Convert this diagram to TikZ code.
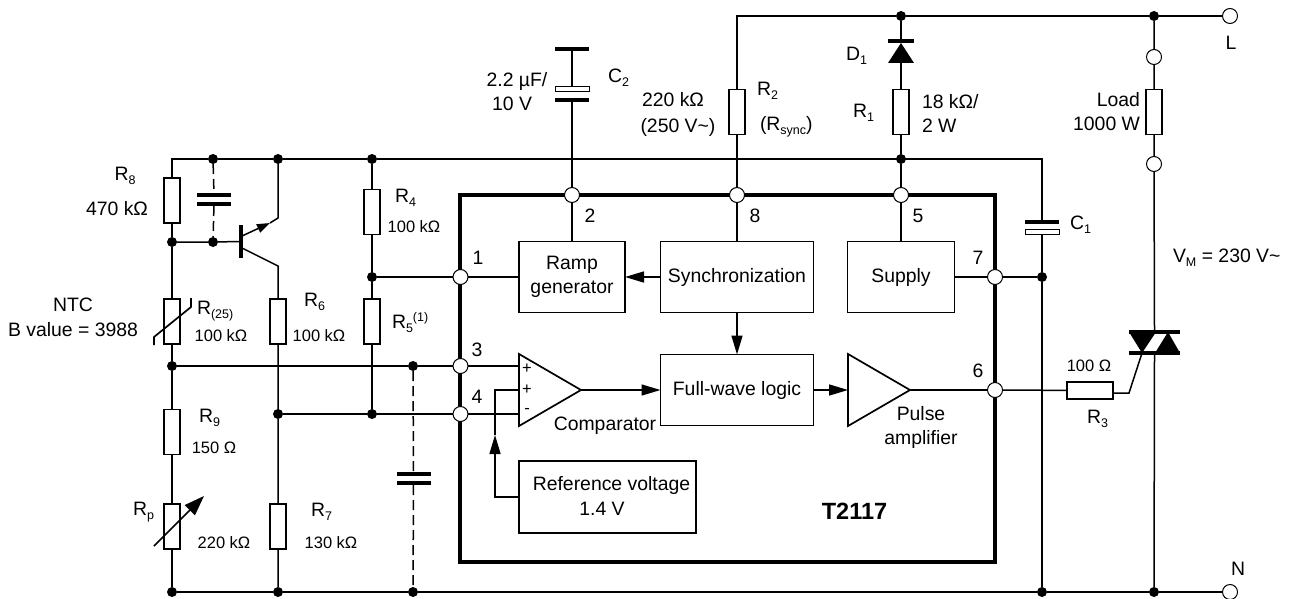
\documentclass[tikz,border=0pt]{standalone}
\usepackage{fontspec}
\setmainfont{Liberation Sans}
\usetikzlibrary{arrows.meta}
\newcommand{\fbig}{\fontsize{19.4}{24}\selectfont}
\newcommand{\fsmall}{\fontsize{16.5}{20}\selectfont}
\newcommand{\lowidx}[1]{\raisebox{-4pt}{\fontsize{12.5}{13}\selectfont #1}}
\newcommand{\upidx}[1]{\raisebox{7pt}{\fontsize{12.5}{13}\selectfont #1}}
\tikzstyle{every node}=[inner sep=0pt,outer sep=0pt]
\tikzstyle{lab}=[font=\fbig,align=center]
\tikzstyle{val}=[font=\fsmall,align=center]
\tikzstyle{dot}=[circle,fill=black,minimum size=10pt]
\tikzstyle{pin}=[circle,draw,fill=white,line width=1pt,minimum size=15pt]
\tikzstyle{res}=[rectangle,draw,line width=1.7pt,minimum width=16pt,minimum height=45pt]
\tikzstyle{plate}=[rectangle,fill=black,minimum width=34pt,minimum height=4pt]
\tikzstyle{hollow}=[rectangle,draw,fill=white,line width=1pt,minimum width=34pt,minimum height=5pt]
\tikzstyle{block}=[rectangle,draw,font=\fbig,align=center,line width=1.7pt,minimum height=71pt]
\tikzstyle{amp}=[line width=1.7pt,line join=miter]
\tikzstyle{tip}=[-{Triangle[length=19pt,width=11pt]}]
\tikzstyle{opt}=[dashed,dash pattern=on 10pt off 5pt]
\begin{document}
\begin{tikzpicture}[x=1pt,y=-1pt,line width=1.5pt]
\useasboundingbox (0,0) rectangle (1289,599);
\node[rectangle,draw,line width=4.5pt,minimum width=535pt,minimum height=367pt] (ic) at (727.5,378.5) {};
\node[pin] (p1) at (460.5,277) {};
\node[pin] (p2) at (572,195) {};
\node[pin] (p3) at (460.5,366) {};
\node[pin] (p4) at (460.5,414) {};
\node[pin] (p5) at (901,195) {};
\node[pin] (p6) at (995,390) {};
\node[pin] (p7) at (995,277) {};
\node[pin] (p8) at (737,195) {};
\node[pin] (tL) at (1230,16) {};
\node[pin] (tN) at (1230,592) {};
\node[pin] (tA) at (1154,57) {};
\node[pin] (tB) at (1154,164) {};
\node[dot] (j1) at (213,159) {};
\node[dot] (j2) at (278,159) {};
\node[dot] (j3) at (372,159) {};
\node[dot] (j4) at (901,159) {};
\node[dot] (j5) at (172,242) {};
\node[dot] (j6) at (213,242) {};
\node[dot] (j7) at (372,277) {};
\node[dot] (j8) at (1042,277) {};
\node[dot] (j9) at (172,366) {};
\node[dot] (j10) at (413,366) {};
\node[dot] (j11) at (278,414) {};
\node[dot] (j12) at (372,414) {};
\node[dot] (j13) at (172,592) {};
\node[dot] (j14) at (278,592) {};
\node[dot] (j15) at (413,592) {};
\node[dot] (j16) at (1042,592) {};
\node[dot] (j17) at (1154,592) {};
\node[dot] (j18) at (901,16) {};
\node[dot] (j19) at (1154,16) {};
\node[res] (R8) at (172,200.5) {};
\node[res] (R4) at (372,212) {};
\node[res] (R25) at (172,321.5) {};
\node[res] (R6) at (278,321.5) {};
\node[res] (R5) at (372,321.5) {};
\node[res] (R9) at (172,432) {};
\node[res] (Rp) at (172,526.5) {};
\node[res] (R7) at (278,526.5) {};
\node[res] (R2) at (737,112) {};
\node[res] (R1) at (901,112) {};
\node[res] (RL) at (1154,112) {};
\node[res,minimum width=46pt,minimum height=17pt] (R3) at (1090,390.5) {};
\node[block,minimum width=106pt] (ramp) at (572,277) {Ramp\\generator};
\node[block,minimum width=153pt] (sync) at (737,277) {Synchronization};
\node[block,minimum width=107pt] (supply) at (901,277) {Supply};
\node[block,minimum width=153pt] (logic) at (737,390) {Full-wave logic};
\node[block,minimum width=177pt,minimum height=72pt] (ref) at (607.5,497) {};
\node[plate] (C2a) at (572,49) {};
\node[hollow] (C2b) at (572,89.5) {};
\node[plate] (C2c) at (572,100) {};
\node[plate] (C1a) at (1042,222) {};
\node[hollow] (C1b) at (1042,231.5) {};
\node[plate] (C3a) at (214,195) {};
\node[plate] (C3b) at (214,204) {};
\node[plate] (C4a) at (413.5,474) {};
\node[plate] (C4b) at (413.5,483) {};
\node[plate,minimum width=26pt] (D1a) at (901,41) {};
\node[plate,minimum width=51pt] (Tt) at (1154.5,332) {};
\node[plate,minimum width=51pt] (Tb) at (1154.5,353) {};
\node[plate,minimum width=4pt,minimum height=33pt] (Qb) at (241,241.5) {};
\coordinate (Qe1) at (242,236);
\coordinate (Qe2) at (270,223);
\coordinate (Qe) at (278,218);
\coordinate (Qc1) at (242,248);
\coordinate (Qc) at (278,266);
\coordinate (D1k) at (901,43);
\coordinate (D1b) at (901,63);
\coordinate (cmpa) at (519,366);
\coordinate (cmpb) at (519,390);
\coordinate (cmpc) at (519,414);
\coordinate (cmpt) at (581,390);
\coordinate (ampb) at (848,390);
\coordinate (ampt) at (910,390);
\coordinate (arw) at (495,435);
\coordinate (gt1) at (1129,393);
\coordinate (gt2) at (1142,353);
\coordinate (ntc1) at (154,345);
\coordinate (ntc2) at (154,337);
\coordinate (ntc3) at (191,307);
\coordinate (ntc4) at (191,298);
\coordinate (pot1) at (154,546);
\coordinate (pot2) at (204,496);
\draw[amp] (519,354)--(519,426)--(cmpt)--cycle;
\draw[amp] (848,354)--(848,426)--(ampt)--cycle;
\fill (888,63)--(914,63)--(D1k)--cycle;
\fill (1129,332)--(1156,332)--(gt2)--cycle;
\fill (1168,332)--(1180,353)--(1155,353)--cycle;
\draw (R8) |- (j1);
\draw (j1)--(j2)--(j3);
\draw (j3) -- (1042,159) -- (C1a);
\draw (C1b) -- (j8) -- (j16);
\draw (R8) -- (j5) -- (R25) -- (j9) -- (R9) -- (Rp) -- (j13) -- (j14) -- (j15) -- (j16) -- (j17) -- (tN);
\draw (j5) -- (j6) -- (Qb);
\draw[opt] (j1) -- (C3a);
\draw[opt] (C3b) -- (j6);
\draw (j2) -- (Qe) -- (Qe2);
\draw[-{Triangle[length=13pt,width=9pt]}] (Qe1) -- (Qe2);
\draw (Qc1) -- (Qc) -- (R6) -- (j11) -- (R7) -- (j14);
\draw (j3) -- (R4) -- (j7) -- (R5) -- (j12);
\draw (j7) -- (p1) -- (ramp);
\draw (j11) -- (j12) -- (p4) -- (cmpc);
\draw (j9) -- (j10) -- (p3) -- (cmpa);
\draw[opt] (j10) -- (C4a);
\draw[opt] (C4b) -- (j15);
\draw (C2a) -- (C2b);
\draw (C2c) -- (p2) -- (ramp);
\draw (p8) -- (sync);
\draw (R2) |- (j18);
\draw (R2) -- (p8);
\draw (j18) -- (j19) -- (tL);
\draw (j18) -- (D1a);
\draw (D1b) -- (R1) -- (j4) -- (p5) -- (supply);
\draw (supply) -- (p7) -- (j8);
\draw (j19) -- (tA) -- (RL) -- (tB) -- (Tt);
\draw (Tb) -- (j17);
\draw (p6) -- (R3);
\draw (ampt) -- (p6);
\draw (R3.east |- gt1) -- (gt1) -- (gt2);
\draw[tip] (sync) -- (ramp);
\draw[tip] (sync) -- (logic);
\draw[tip] (cmpt) -- (logic);
\draw[tip] (logic) -- (ampb);
\draw[tip] (ref) -| (arw);
\draw (arw) |- (cmpb);
\draw[line width=1.7pt] (ntc1) -- (ntc2) -- (ntc3) -- (ntc4);
\draw[line width=1.7pt,-{Triangle[length=20pt,width=14pt]}] (pot1) -- (pot2);
\node[lab] (lR8) at (125,176) {R\lowidx{8}};
\node[lab] (vR8) at (117,209) {470 kΩ};
\node[lab] (lNTC) at (73,305) {NTC};
\node[lab] (vNTC) at (73,330) {B value = 3988};
\node[lab,anchor=west] (lR25) at (197,311) {R\lowidx{(25)}};
\node[val] (vR25) at (221,336) {100 kΩ};
\node[lab,anchor=west] (lR6) at (304,302) {R\lowidx{6}};
\node[val] (vR6) at (319,336) {100 kΩ};
\node[lab,anchor=west] (lR4) at (395,198) {R\lowidx{4}};
\node[val] (vR4) at (414,227) {100 kΩ};
\node[lab,anchor=west] (lR5) at (392,323) {R\lowidx{5}\upidx{(1)}};
\node[lab,anchor=west] (lR9) at (199,418) {R\lowidx{9}};
\node[val] (vR9) at (214,448) {150 Ω};
\node[lab,anchor=west] (lRp) at (133,512) {R\lowidx{p}};
\node[val] (vRp) at (224,543) {220 kΩ};
\node[lab,anchor=west] (lR7) at (311,512) {R\lowidx{7}};
\node[val] (vR7) at (331,543) {130 kΩ};
\node[lab] (vC2a) at (517,81) {2.2 µF/};
\node[lab] (vC2b) at (512,104) {10 V};
\node[lab,anchor=west] (lC2) at (608,78) {C\lowidx{2}};
\node[lab] (vR2a) at (673,100) {220 kΩ};
\node[lab] (vR2b) at (678,127) {(250 V\textasciitilde)};
\node[lab,anchor=west] (lR2) at (757,91) {R\lowidx{2}};
\node[lab,anchor=west] (sR2) at (760,127) {(R\lowidx{sync})};
\node[lab,anchor=west] (lD1) at (846,56) {D\lowidx{1}};
\node[lab,anchor=west] (lR1) at (853,113) {R\lowidx{1}};
\node[lab,anchor=west,align=left] (vR1) at (922,113) {18 kΩ/\\2 W};
\node[lab,anchor=east,align=right] (lLoad) at (1140,112) {Load\\1000 W};
\node[lab,anchor=west] (lC1) at (1070,225) {C\lowidx{1}};
\node[lab,anchor=west] (lVM) at (1173,258) {V\lowidx{M} = 230 V\textasciitilde};
\node[lab] (lL) at (1231,43) {L};
\node[lab] (lN) at (1238,569) {N};
\node[val] (vR3) at (1089,366) {100 Ω};
\node[lab,anchor=west] (lR3) at (1087,419) {R\lowidx{3}};
\node[lab] (n1) at (478,258) {1};
\node[lab] (n2) at (590,216) {2};
\node[lab] (n8) at (755,216) {8};
\node[lab] (n5) at (918,216) {5};
\node[lab] (n7) at (978,258) {7};
\node[lab] (n3) at (477,350) {3};
\node[lab] (n4) at (477,397) {4};
\node[lab] (n6) at (978,371) {6};
\node[val] (cp1) at (527,369) {+};
\node[val] (cp2) at (527,390) {+};
\node[val] (cm) at (527,411) {-};
\node[lab] (lcmp) at (605,426) {Comparator};
\node[lab] (lamp) at (921,427.5) {Pulse\\amplifier};
\node[lab] (lrefa) at (611.5,485) {Reference voltage};
\node[lab] (lrefb) at (602,509) {1.4 V};
\node[lab,font=\fontsize{23.5}{28}\selectfont\bfseries] (lT) at (854.5,511) {T2117};
\end{tikzpicture}
\end{document}
